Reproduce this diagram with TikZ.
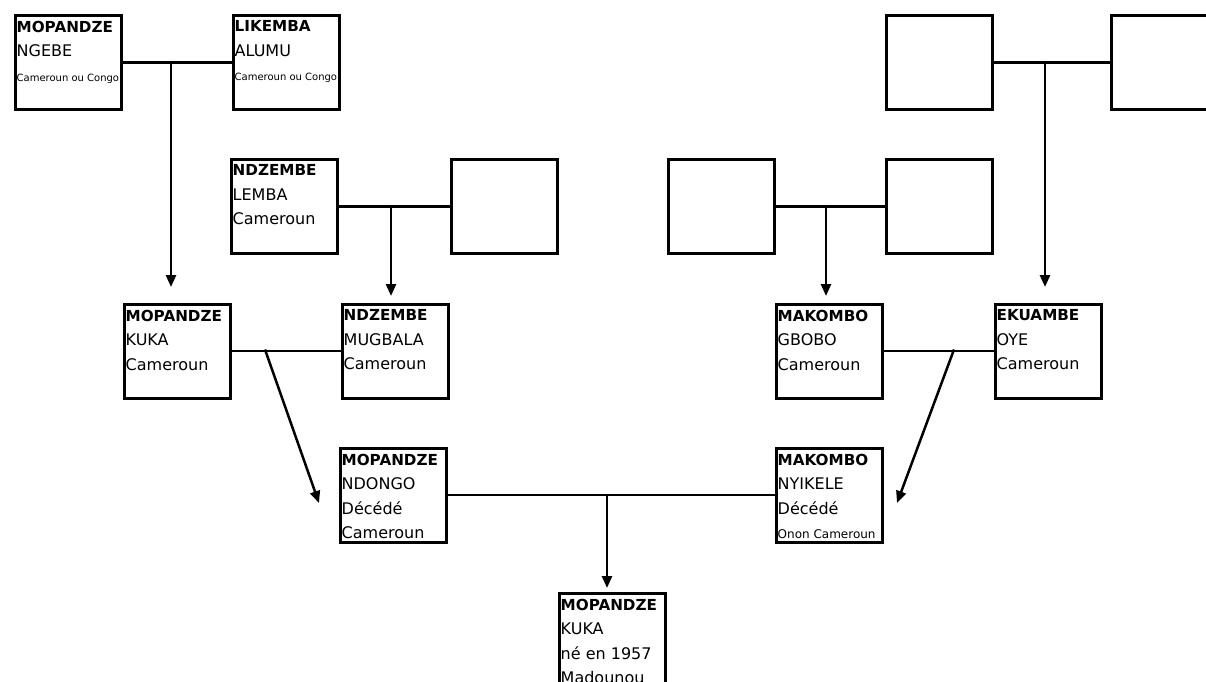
\documentclass[tikz,border=0pt]{standalone}
\usepackage{fontspec}
\setmainfont{DejaVu Sans}
\usetikzlibrary{arrows.meta}

% family name (first line) and a small line (birthplace) inside a person box
\newcommand\famname[1]{{\fontsize{15.2}{24.5}\selectfont\bfseries #1}}
\newcommand\placeline[2]{{\fontsize{#1}{24.5}\selectfont #2}}

\tikzset{
  person/.style={draw, line width=3pt, minimum width=106pt, minimum height=94pt,
                 inner sep=0pt, anchor=north west},
  persontext/.style={anchor=north west, inner sep=0pt, align=left,
                     font=\fontsize{16}{24.5}\selectfont},
  couple/.style={line width=3pt},
  couplethin/.style={line width=2pt},
  descent/.style={line width=2.5pt, -{Triangle[length=12pt,width=10pt]}},
  inbox/.style={shift={(3pt,-7.2pt)}},
}

\begin{document}
\begin{tikzpicture}[x=1pt,y=-1pt]
  \useasboundingbox (0,0) rectangle (1206,681);
  \fill[white] (0,0) rectangle (1206,681);
  \clip (0,0) rectangle (1206,681);

  % great-grandparents
  \node[person] (a1) at (13.5,13.5) {};
  \node[person] (a2) at (231.5,13.5) {};
  \node[person] (a3) at (884.5,13.5) {};
  \node[person] (a4) at (1109.5,13.5) {};
  \node[person] (b1) at (229.5,157.5) {};
  \node[person] (b2) at (449.5,157.5) {};
  \node[person] (b3) at (666.5,157.5) {};
  \node[person] (b4) at (884.5,157.5) {};
  % grandparents
  \node[person] (c1) at (122.5,302.5) {};
  \node[person] (c2) at (340.5,302.5) {};
  \node[person] (c3) at (774.5,302.5) {};
  \node[person] (c4) at (993.5,302.5) {};
  % parents
  \node[person] (d1) at (338.5,446.5) {};
  \node[person] (d2) at (774.5,446.5) {};
  % child
  \node[person] (e) at (557.5,591.5) {};

  % names
  \node[persontext] (ta1) at ([inbox]a1.north west)
    {\famname{MOPANDZE}\\NGEBE\\\placeline{10}{Cameroun ou Congo}};
  \node[persontext] (ta2) at ([inbox]a2.north west)
    {\famname{LIKEMBA}\\ALUMU\\\placeline{10}{Cameroun ou Congo}};
  \node[persontext] (tb1) at ([inbox]b1.north west)
    {\famname{NDZEMBE}\\LEMBA\\Cameroun};
  \node[persontext] (tc1) at ([inbox]c1.north west)
    {\famname{MOPANDZE}\\KUKA\\Cameroun};
  \node[persontext] (tc2) at ([inbox]c2.north west)
    {\famname{NDZEMBE}\\MUGBALA\\Cameroun};
  \node[persontext] (tc3) at ([inbox]c3.north west)
    {\famname{MAKOMBO}\\GBOBO\\Cameroun};
  \node[persontext] (tc4) at ([inbox]c4.north west)
    {\famname{EKUAMBE}\\OYE\\Cameroun};
  \node[persontext] (td1) at ([inbox]d1.north west)
    {\famname{MOPANDZE}\\NDONGO\\Décédé\\Cameroun};
  \node[persontext] (td2) at ([inbox]d2.north west)
    {\famname{MAKOMBO}\\NYIKELE\\Décédé\\\placeline{12}{Onon Cameroun}};
  \node[persontext] (te) at ([inbox]e.north west)
    {\famname{MOPANDZE}\\KUKA\\né en 1957\\Madounou};

  % marriages
  \draw[couple] (a1.east) -- (a2.west);
  \draw[couple] (a3.east) -- (a4.west);
  \draw[couple] (b1.east) -- (b2.west);
  \draw[couple] (b3.east) -- (b4.west);
  \draw[couplethin] (c1.east) -- (c2.west);
  \draw[couplethin] (c3.east) -- (c4.west);
  \draw[couplethin] (d1.east) -- (d2.west);

  % descent lines
  \coordinate (ja) at (171,60.5);   \coordinate (ka) at (171,287);
  \coordinate (jb) at (391,204.5);  \coordinate (kb) at (391,296);
  \coordinate (jc) at (826,204.5);  \coordinate (kc) at (826,296);
  \coordinate (jd) at (1045,60.5);  \coordinate (kd) at (1045,287);
  \coordinate (je) at (265,349.5);  \coordinate (ke) at (319,503);
  \coordinate (jf) at (954,349.5);  \coordinate (kf) at (897,503);
  \coordinate (jg) at (607,493.5);  \coordinate (kg) at (607,588);
  \draw[descent] (ja) -- (ka);
  \draw[descent] (jb) -- (kb);
  \draw[descent] (jc) -- (kc);
  \draw[descent] (jd) -- (kd);
  \draw[descent] (je) -- (ke);
  \draw[descent] (jf) -- (kf);
  \draw[descent] (jg) -- (kg);
\end{tikzpicture}
\end{document}
